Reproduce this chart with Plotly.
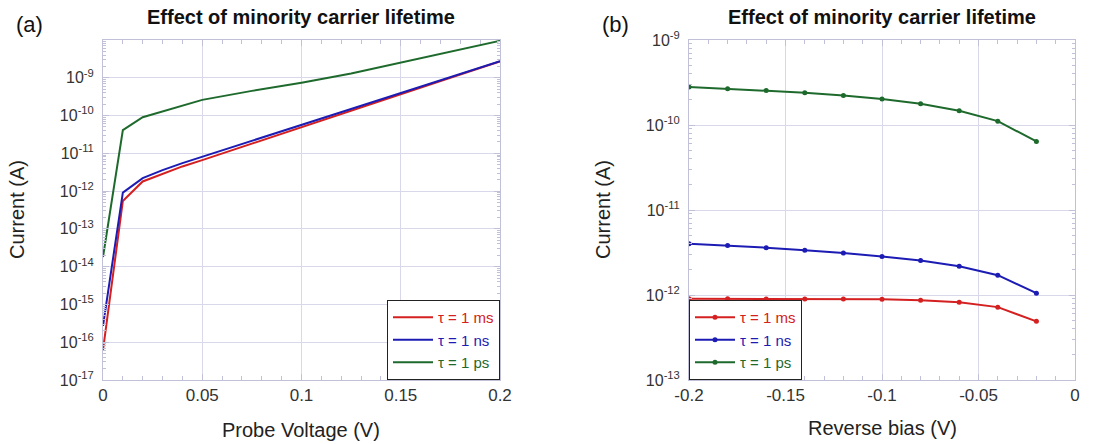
import plotly.graph_objects as go
import numpy as np

# ---- data ----
vprobe = [0, 0.01, 0.02, 0.03, 0.04, 0.05, 0.075, 0.1, 0.125, 0.15, 0.175, 0.2]
ia_ms = [6.2e-17, 5.5e-13, 1.8e-12, 2.9e-12, 4.5e-12, 6.6e-12, 1.8e-11, 5.0e-11, 1.4e-10, 3.8e-10, 1.0e-9, 2.7e-9]
ia_ns = [2.7e-16, 9.1e-13, 2.2e-12, 3.6e-12, 5.5e-12, 8.1e-12, 2.1e-11, 5.6e-11, 1.5e-10, 4.0e-10, 1.05e-9, 2.75e-9]
ia_ps = [1.8e-14, 4.1e-11, 9.0e-11, 1.3e-10, 1.8e-10, 2.6e-10, 4.5e-10, 7.4e-10, 1.3e-9, 2.5e-9, 4.9e-9, 9.5e-9]

vrev = [-0.2, -0.18, -0.16, -0.14, -0.12, -0.1, -0.08, -0.06, -0.04, -0.02]
ib_ms = [9.05e-13, 9.05e-13, 9.0e-13, 9.0e-13, 9.0e-13, 8.9e-13, 8.67e-13, 8.2e-13, 7.2e-13, 4.9e-13]
ib_ns = [4.0e-12, 3.83e-12, 3.6e-12, 3.35e-12, 3.12e-12, 2.83e-12, 2.54e-12, 2.18e-12, 1.71e-12, 1.05e-12]
ib_ps = [2.8e-10, 2.67e-10, 2.54e-10, 2.4e-10, 2.23e-10, 2.02e-10, 1.78e-10, 1.47e-10, 1.11e-10, 6.4e-11]

names = ["τ = 1 ms", "τ = 1 ns", "τ = 1 ps"]
colors = ["#d42020", "#1c1cb4", "#1e6a2c"]

exps_a = list(range(-17, -8))
exps_b = list(range(-13, -8))

GRID = "#d8d8ea"
AXC = "#c0c0d8"
TICKC = "#333333"
FONT = "Liberation Sans, Arial"

fig = go.Figure()

for ys, nm, c in zip([ia_ms, ia_ns, ia_ps], names, colors):
    fig.add_trace(go.Scatter(x=vprobe, y=ys, mode="lines", line=dict(color=c, width=2),
                             name=f"<span style='color:{c}'>{nm}</span>",
                             xaxis="x", yaxis="y", legend="legend"))
for ys, nm, c in zip([ib_ms, ib_ns, ib_ps], names, colors):
    fig.add_trace(go.Scatter(x=vrev, y=ys, mode="lines+markers", line=dict(color=c, width=2),
                             marker=dict(size=5, color=c),
                             name=f"<span style='color:{c}'>{nm}</span>",
                             xaxis="x2", yaxis="y2", legend="legend2"))

def minor_log(exps):
    vals = []
    for e in range(exps[0] - 1, exps[-1] + 1):
        for m in range(2, 10):
            vals.append(m * 10.0 ** e)
    return vals

def yaxis(exps, rng, anchor, dom):
    return dict(type="log", range=rng, anchor=anchor, domain=dom, automargin=False,
                tickvals=[10.0 ** e for e in exps],
                ticktext=[f"10<sup>{e}</sup>" for e in exps],
                showgrid=True, gridcolor=GRID, gridwidth=1,
                showline=True, linecolor=AXC, linewidth=1, mirror="allticks",
                ticks="inside", ticklen=6, tickcolor=AXC, ticklabelstandoff=5,
                minor=dict(tickvals=minor_log(exps), ticks="inside", ticklen=3, tickcolor=AXC, showgrid=False),
                tickfont=dict(family=FONT, size=16, color=TICKC),
                title=dict(text=""),
                zeroline=False)

def xaxis(rng, tickvals, ticktext, anchor, dom, minor_dtick):
    return dict(range=rng, anchor=anchor, domain=dom, tickvals=tickvals, ticktext=ticktext,
                automargin=False,
                showgrid=True, gridcolor=GRID, gridwidth=1,
                showline=True, linecolor=AXC, linewidth=1, mirror="allticks",
                ticks="inside", ticklen=6, tickcolor=AXC,
                minor=dict(dtick=minor_dtick, tick0=0, ticks="inside", ticklen=4, tickcolor=AXC, showgrid=False),
                tickfont=dict(family=FONT, size=17, color=TICKC),
                title=dict(text=""),
                zeroline=False)

ydom = [1 - 380 / 444, 1 - 40 / 444]
legfont = dict(family=FONT, size=15)
fig.update_layout(
    width=1109, height=444,
    margin=dict(l=0, r=0, t=0, b=0, autoexpand=False),
    paper_bgcolor="white", plot_bgcolor="white",
    xaxis=xaxis([0, 0.2], [0, 0.05, 0.1, 0.15, 0.2], ["0", "0.05", "0.1", "0.15", "0.2"],
                "y", [103 / 1109, 500 / 1109], 0.01),
    yaxis=yaxis(exps_a, [-17, -8], "x", ydom),
    xaxis2=xaxis([-0.2, 0], [-0.2, -0.15, -0.1, -0.05, 0], ["-0.2", "-0.15", "-0.1", "-0.05", "0"],
                 "y2", [689 / 1109, 1075 / 1109], 0.01),
    yaxis2=yaxis(exps_b, [-13, -9], "x2", ydom),
    legend=dict(x=500 / 1109, xanchor="right", y=1 - 380 / 444, yanchor="bottom",
                bordercolor="#222", borderwidth=1, bgcolor="white",
                font=legfont, itemwidth=40, tracegroupgap=0),
    legend2=dict(x=689 / 1109, xanchor="left", y=1 - 380 / 444, yanchor="bottom",
                 bordercolor="#222", borderwidth=1, bgcolor="white",
                 font=legfont, itemwidth=40, tracegroupgap=0),
    showlegend=True,
)

def ann(text, x, y, size, angle=0, color="#111", anchor="center"):
    fig.add_annotation(text=text, x=x / 1109, y=1 - y / 444, xref="paper", yref="paper",
                       showarrow=False, xanchor=anchor, yanchor="middle", textangle=angle,
                       font=dict(family=FONT, size=size, color=color))

ann("<b>Effect of minority carrier lifetime</b>", 301, 17, 20)
ann("<b>Effect of minority carrier lifetime</b>", 882, 17, 20)
ann("(a)", 14, 24, 22, anchor="left")
ann("(b)", 600, 24, 22, anchor="left")
ann("Probe Voltage (V)", 301, 430, 20, color="#222")
ann("Reverse bias (V)", 882, 428, 20, color="#222")
ann("Current (A)", 17, 210, 20, angle=-90, color="#222")
ann("Current (A)", 603, 210, 20, angle=-90, color="#222")

fig.write_html("out.html")
